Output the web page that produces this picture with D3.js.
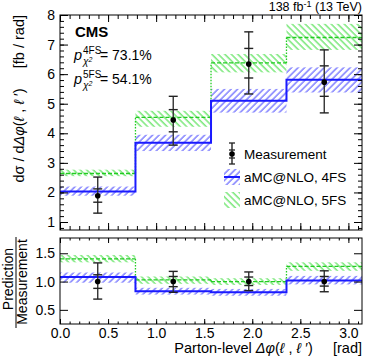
<!DOCTYPE html>
<html lang="en">
<head>
<meta charset="UTF-8">
<script src="https://cdn.jsdelivr.net/npm/d3@7"></script>
<style>
body { margin: 0; background: #fff; }
svg { font-family: "Liberation Sans", Arial, sans-serif; }
.tick text { font-size: 14px; fill: #000; }
.tick line { stroke: #000; }
</style>
</head>
<body>
<div id="chart"></div>
<script>
// bin edges (rad) and measured / predicted values
const binEdges = [0, 0.785, 1.571, 2.356, 3.142];
const meas = [1.89, 4.45, 6.34, 5.73];
const measStatLo = [1.67, 4.05, 5.87, 5.25];
const measStatHi = [2.12, 4.80, 6.87, 6.28];
const measTotLo = [1.30, 3.60, 5.33, 4.69];
const measTotHi = [2.52, 5.25, 7.43, 6.82];

const pred4 = [2.03, 3.68, 5.10, 5.81];
const pred4Lo = [1.89, 3.40, 4.70, 5.38];
const pred4Hi = [2.20, 3.95, 5.50, 6.23];
const pred5 = [2.64, 4.54, 6.38, 7.24];
const pred5Lo = [2.55, 4.22, 6.06, 6.82];
const pred5Hi = [2.77, 4.76, 6.68, 7.70];

// ratio panel
const ratioMeas = [1, 1, 1, 1];
const ratioStatLo = [0.88, 0.91, 0.93, 0.92];
const ratioStatHi = [1.12, 1.09, 1.08, 1.09];
const ratioTotLo = [0.69, 0.81, 0.84, 0.82];
const ratioTotHi = [1.33, 1.18, 1.17, 1.19];
const ratio4 = [1.08, 0.83, 0.81, 1.02];
const ratio4Lo = [0.98, 0.77, 0.75, 0.95];
const ratio4Hi = [1.16, 0.89, 0.87, 1.10];
const ratio5 = [1.40, 1.03, 1.00, 1.27];
const ratio5Lo = [1.34, 0.96, 0.94, 1.19];
const ratio5Hi = [1.47, 1.09, 1.06, 1.34];

const yTopTicks = [1, 2, 3, 4, 5, 6, 7, 8];
const yRatioTicks = [0.5, 1, 1.5];
const xTicks = [0, 0.5, 1, 1.5, 2, 2.5, 3];

const W = 374, H = 363;
const left = 60, right = 362;
const top1 = 15, bot1 = 230, top2 = 238, bot2 = 324;

const blue = "#1a1aff", green = "#22cc22";
const NB = "\u00a0";

const svg = d3.select("#chart").append("svg")
    .attr("width", W).attr("height", H);

const defs = svg.append("defs");
function hatch(id, color, angle) {
    const p = defs.append("pattern")
        .attr("id", id)
        .attr("patternUnits", "userSpaceOnUse")
        .attr("width", 4.6).attr("height", 4.6)
        .attr("patternTransform", `rotate(${angle})`);
    p.append("line")
        .attr("x1", 1).attr("y1", -1).attr("x2", 1).attr("y2", 6)
        .attr("stroke", color).attr("stroke-width", 0.9);
}
hatch("h4", "#2a2aff", 45);
hatch("h5", "#1fd81f", -45);

const x = d3.scaleLinear().domain([0, Math.PI]).range([left, right]);
const y = d3.scaleLinear().domain([0.73, 8]).range([bot1, top1]);
const yr = d3.scaleLinear().domain([0.25, 1.77]).range([bot2, top2]);

const bins = d3.range(meas.length);

function drawPanel(ys, p4, p4lo, p4hi, p5, p5lo, p5hi, m, sLo, sHi, tLo, tHi) {
    const g = svg.append("g");
    // bands
    g.selectAll(".b5").data(bins).enter().append("rect")
        .attr("x", i => x(binEdges[i])).attr("width", i => x(binEdges[i + 1]) - x(binEdges[i]))
        .attr("y", i => ys(p5hi[i])).attr("height", i => ys(p5lo[i]) - ys(p5hi[i]))
        .attr("fill", "url(#h5)");
    g.selectAll(".b4").data(bins).enter().append("rect")
        .attr("x", i => x(binEdges[i])).attr("width", i => x(binEdges[i + 1]) - x(binEdges[i]))
        .attr("y", i => ys(p4hi[i])).attr("height", i => ys(p4lo[i]) - ys(p4hi[i]))
        .attr("fill", "url(#h4)");

    // 5FS step: dashed horizontals, dotted verticals
    g.selectAll(".h5").data(bins).enter().append("line")
        .attr("x1", i => x(binEdges[i])).attr("x2", i => x(binEdges[i + 1]))
        .attr("y1", i => ys(p5[i])).attr("y2", i => ys(p5[i]))
        .attr("stroke", green).attr("stroke-width", 1.3).attr("stroke-dasharray", "4,2");
    g.selectAll(".v5").data(bins.slice(1)).enter().append("line")
        .attr("x1", i => x(binEdges[i])).attr("x2", i => x(binEdges[i]))
        .attr("y1", i => ys(p5[i - 1])).attr("y2", i => ys(p5[i]))
        .attr("stroke", green).attr("stroke-width", 1.3).attr("stroke-dasharray", "1.5,1.5");

    // 4FS step
    const step = [];
    bins.forEach(i => { step.push([binEdges[i], p4[i]]); step.push([binEdges[i + 1], p4[i]]); });
    g.append("path")
        .attr("d", d3.line().x(d => x(d[0])).y(d => ys(d[1]))(step))
        .attr("fill", "none").attr("stroke", blue).attr("stroke-width", 2);

    // measurement
    const cx = i => x((binEdges[i] + binEdges[i + 1]) / 2);
    const eb = g.selectAll(".m").data(bins).enter().append("g");
    eb.append("line").attr("x1", cx).attr("x2", cx)
        .attr("y1", i => ys(tLo[i])).attr("y2", i => ys(tHi[i]))
        .attr("stroke", "#333").attr("stroke-width", 1.4);
    [tLo, tHi, sLo, sHi].forEach(arr => {
        eb.append("line").attr("x1", i => cx(i) - 4.5).attr("x2", i => cx(i) + 4.5)
            .attr("y1", i => ys(arr[i])).attr("y2", i => ys(arr[i]))
            .attr("stroke", "#222").attr("stroke-width", 1.4);
    });
    eb.append("circle").attr("cx", cx).attr("cy", i => ys(m[i])).attr("r", 2.8).attr("fill", "#000");
}

drawPanel(y, pred4, pred4Lo, pred4Hi, pred5, pred5Lo, pred5Hi, meas, measStatLo, measStatHi, measTotLo, measTotHi);
drawPanel(yr, ratio4, ratio4Lo, ratio4Hi, ratio5, ratio5Lo, ratio5Hi, ratioMeas, ratioStatLo, ratioStatHi, ratioTotLo, ratioTotHi);

// axes with inward ticks on all sides
const xMinor = d3.range(0, 3.15, 0.1);
const yMinor = d3.range(0.8, 8.01, 0.2);

function axis(gen, transform, values, size, labels) {
    const a = gen.tickValues(values).tickSize(-size).tickPadding(labels ? 4 : 0);
    if (!labels) a.tickFormat("");
    const g = svg.append("g").attr("transform", transform).call(a);
    g.select(".domain").remove();
    return g;
}
// top panel
axis(d3.axisLeft(y), `translate(${left},0)`, yMinor, 4, false);
axis(d3.axisLeft(y), `translate(${left},0)`, yTopTicks, 8, true).selectAll("text").attr("dx", -1);
axis(d3.axisRight(y), `translate(${right},0)`, yMinor, 4, false);
axis(d3.axisRight(y), `translate(${right},0)`, yTopTicks, 8, false);
axis(d3.axisBottom(x), `translate(0,${bot1})`, xMinor, 4, false);
axis(d3.axisBottom(x), `translate(0,${bot1})`, xTicks, 7, false);
axis(d3.axisTop(x), `translate(0,${top1})`, xMinor, 4, false);
axis(d3.axisTop(x), `translate(0,${top1})`, xTicks, 7, false);
// ratio panel
axis(d3.axisLeft(yr), `translate(${left},0)`, yRatioTicks, 8, true).selectAll("text").attr("dx", -1);
axis(d3.axisRight(yr), `translate(${right},0)`, yRatioTicks, 8, false);
axis(d3.axisBottom(x), `translate(0,${bot2})`, xMinor, 2.5, false);
axis(d3.axisBottom(x), `translate(0,${bot2})`, xTicks, 5, true).selectAll("text").attr("dy", "0.7em");
axis(d3.axisTop(x), `translate(0,${top2})`, xMinor, 2.5, false);
axis(d3.axisTop(x), `translate(0,${top2})`, xTicks, 5, false);

// frames
[[top1, bot1], [top2, bot2]].forEach(([t, b]) => {
    svg.append("rect").attr("x", left).attr("y", t).attr("width", right - left).attr("height", b - t)
        .attr("fill", "none").attr("stroke", "#000").attr("stroke-width", 1);
});

// labels
svg.append("text").attr("x", right).attr("y", 11).attr("text-anchor", "end")
    .attr("font-size", 12.5)
    .html('138 fb<tspan dy="-4" font-size="9">-1</tspan><tspan dy="4"> (13 TeV)</tspan>');

svg.append("text").attr("x", 75).attr("y", 37).attr("font-size", 15).attr("font-weight", "bold").text("CMS");

[["4FS", "73.1%", 60], ["5FS", "54.1%", 84]].forEach(([s, v, by]) => {
    svg.append("text").attr("x", 74).attr("y", by).attr("font-size", 14.5).attr("font-style", "italic").text("p");
    svg.append("text").attr("x", 83).attr("y", by - 6).attr("font-size", 10).text(s);
    svg.append("text").attr("x", 83).attr("y", by + 5).attr("font-size", 10).attr("font-style", "italic")
        .html('χ<tspan dy="-3" font-size="7">2</tspan>');
    svg.append("text").attr("x", 100).attr("y", by).attr("font-size", 14).text("= " + v);
});

const yl = svg.append("text")
    .attr("transform", `translate(24,${top1}) rotate(-90)`)
    .attr("text-anchor", "end").attr("font-size", 14.5);
yl.append("tspan").text("dσ / d");
yl.append("tspan").attr("font-style", "italic").text("Δφ");
yl.append("tspan").text("(");
yl.append("tspan").attr("font-style", "italic").text("ℓ");
yl.append("tspan").text(NB + "," + NB);
yl.append("tspan").attr("font-style", "italic").text("ℓ");
yl.append("tspan").text(NB + "′)" + NB + NB + NB + NB + NB + "[fb / rad]");

svg.append("text").attr("transform", `translate(13,${(top2 + bot2) / 2 - 2}) rotate(-90)`)
    .attr("text-anchor", "middle").attr("font-size", 14).text("Prediction");
svg.append("line").attr("x1", 16).attr("x2", 16).attr("y1", 237).attr("y2", 328)
    .attr("stroke", "#000").attr("stroke-width", 1);
svg.append("text").attr("transform", `translate(27,${(top2 + bot2) / 2 + 1}) rotate(-90)`)
    .attr("text-anchor", "middle").attr("font-size", 14).text("Measurement");

const xl = svg.append("text").attr("x", right).attr("y", 353).attr("text-anchor", "end").attr("font-size", 14.5);
xl.append("tspan").text("Parton-level ");
xl.append("tspan").attr("font-style", "italic").text("Δφ");
xl.append("tspan").text("(");
xl.append("tspan").attr("font-style", "italic").text("ℓ");
xl.append("tspan").text(NB + "," + NB);
xl.append("tspan").attr("font-style", "italic").text("ℓ");
xl.append("tspan").text(NB + "′)" + NB + NB + NB + NB + NB + "[rad]");

// legend
const legX = 224, legText = 244;
const lg = svg.append("g");
// measurement
lg.append("line").attr("x1", legX + 8).attr("x2", legX + 8).attr("y1", 143).attr("y2", 164).attr("stroke", "#222").attr("stroke-width", 1.4);
[143, 164, 150, 158].forEach(v => lg.append("line").attr("x1", legX + 5).attr("x2", legX + 11).attr("y1", v).attr("y2", v).attr("stroke", "#222").attr("stroke-width", 1.3));
lg.append("circle").attr("cx", legX + 8).attr("cy", 154).attr("r", 2.8).attr("fill", "#000");
lg.append("text").attr("x", legText).attr("y", 159).attr("font-size", 13.5).text("Measurement");
// 4FS
lg.append("rect").attr("x", legX).attr("y", 169).attr("width", 16).attr("height", 16).attr("fill", "url(#h4)");
lg.append("line").attr("x1", legX).attr("x2", legX + 16).attr("y1", 177).attr("y2", 177).attr("stroke", blue).attr("stroke-width", 2);
lg.append("text").attr("x", legText).attr("y", 182).attr("font-size", 13.5).text("aMC@NLO, 4FS");
// 5FS
lg.append("rect").attr("x", legX).attr("y", 192).attr("width", 16).attr("height", 16).attr("fill", "url(#h5)");
lg.append("text").attr("x", legText).attr("y", 205).attr("font-size", 13.5).text("aMC@NLO, 5FS");
</script>
</body>
</html>
